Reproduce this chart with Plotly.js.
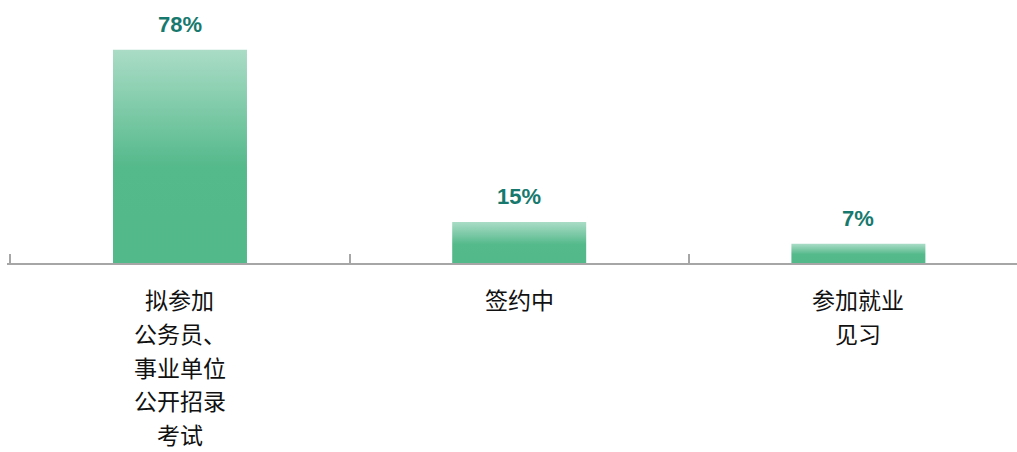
<!DOCTYPE html>
<html>
<head>
<meta charset="utf-8">
<script src="https://cdn.plot.ly/plotly-3.0.1.min.js"></script>
<style>html,body{margin:0;padding:0;background:#fff;}#chart{width:1017px;height:452px;}</style>
</head>
<body>
<div id="chart"></div>
<script>
var categories = ["拟参加公务员、事业单位公开招录考试", "签约中", "参加就业见习"];
var labelLines = [
  ["拟参加", "公务员、", "事业单位", "公开招录", "考试"],
  ["签约中"],
  ["参加就业", "见习"]
];
var values = [78, 15, 7];
var valueLabels = ["78%", "15%", "7%"];

var annotations = [];
values.forEach(function (v, i) {
  annotations.push({
    x: categories[i], y: v, xref: 'x', yref: 'y',
    text: '<b>' + valueLabels[i] + '</b>', showarrow: false,
    yanchor: 'bottom', yshift: 11,
    font: {family: 'Liberation Sans, Arial, sans-serif', size: 22, color: '#17796e'}
  });
});
labelLines.forEach(function (lines, i) {
  lines.forEach(function (ln, j) {
    annotations.push({
      x: categories[i], y: 0, xref: 'x', yref: 'y',
      text: ln, showarrow: false, yanchor: 'middle', borderpad: 0,
      yshift: -36 - j * 33.8,
      font: {family: 'Noto Sans CJK SC, sans-serif', size: 23, color: '#111111'}
    });
  });
});

var trace = {
  type: 'bar', x: categories, y: values,
  width: 0.395,
  marker: {color: '#52b98a', line: {width: 0}},
  hoverinfo: 'none'
};

var layout = {
  width: 1017, height: 452,
  margin: {l: 7, r: 0, t: 17, b: 189},
  paper_bgcolor: '#ffffff', plot_bgcolor: '#ffffff',
  showlegend: false,
  xaxis: {
    type: 'category', range: [-0.51, 2.4676],
    showticklabels: false, showgrid: false, zeroline: false,
    showline: true, linecolor: '#a6a6a6', linewidth: 2,
    ticks: 'inside', tickson: 'boundaries', ticklen: 9, tickwidth: 2, tickcolor: '#a6a6a6'
  },
  yaxis: {range: [0, 90], visible: false, showgrid: false, zeroline: false},
  annotations: annotations
};

Plotly.newPlot('chart', [trace], layout, {displayModeBar: false, staticPlot: true}).then(function (gd) {
  var svg = gd.querySelector('svg.main-svg');
  var ns = 'http://www.w3.org/2000/svg';
  var defs = svg.querySelector('defs') || svg.insertBefore(document.createElementNS(ns, 'defs'), svg.firstChild);
  var grad = document.createElementNS(ns, 'linearGradient');
  grad.setAttribute('id', 'barGrad');
  grad.setAttribute('x1', '0'); grad.setAttribute('y1', '0');
  grad.setAttribute('x2', '0'); grad.setAttribute('y2', '1');
  [[0, '#aadcc6'], [0.55, '#54b98b'], [1, '#52b98a']].forEach(function (s) {
    var st = document.createElementNS(ns, 'stop');
    st.setAttribute('offset', s[0]);
    st.setAttribute('stop-color', s[1]);
    grad.appendChild(st);
  });
  defs.appendChild(grad);
  gd.querySelectorAll('.bars .point path').forEach(function (p) {
    p.style.setProperty('fill', 'url(#barGrad)');
  });
});
</script>
</body>
</html>
